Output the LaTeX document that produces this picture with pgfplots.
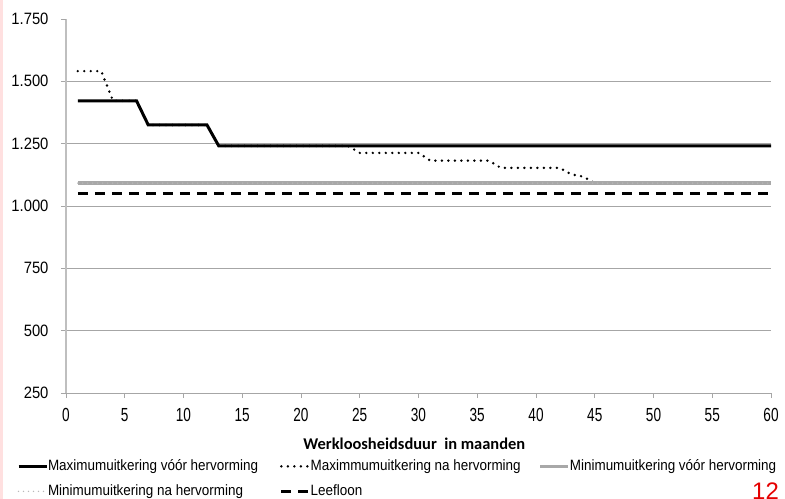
\documentclass[border=0pt]{standalone}
\usepackage{fontspec}
\setmainfont{Liberation Sans}
\newfontfamily\nfont[FakeStretch=0.9]{Liberation Sans}
\newfontfamily\xfont[FakeStretch=0.72]{Liberation Sans}
\newfontfamily\tfont{Carlito}
\usepackage{pgfplots}
\pgfplotsset{compat=1.18}

\definecolor{gridgray}{HTML}{A6A6A6}
\definecolor{axisgray}{HTML}{BFBFBF}
\definecolor{mingray}{HTML}{A8A8A8}

\begin{document}
\begin{tikzpicture}
\useasboundingbox (0,0) rectangle (785bp,499bp);
\fill[red!12] (0,0) rectangle (2.5bp,499bp);
\begin{axis}[
  at={(66bp,106bp)}, anchor=south west,
  scale only axis, width=705bp, height=374bp,
  xmin=0, xmax=60, ymin=250, ymax=1750,
  axis x line=bottom, axis y line=left, axis line style={-},
  x axis line style={gridgray, line width=1pt},
  y axis line style={axisgray, line width=1.5pt},
  xtick={0,5,...,60}, ytick={250,500,...,1500},
  extra y ticks={1750}, extra y tick style={grid=none},
  ymajorgrids, grid style={gridgray, line width=0.9pt},
  tick align=outside, major tick length=5bp,
  tick style={gridgray, line width=0.9pt},
  /pgf/number format/assume math mode=true,
  /pgf/number format/1000 sep={.},
  yticklabel style={font=\fontsize{16.5}{17}\nfont, xshift=-9bp},
  xticklabel style={font=\fontsize{19}{19}\xfont, yshift=-7bp},
  xlabel={Werkloosheidsduur\ \ in maanden},
  xlabel style={at={(axis description cs:0.494,-0.136)}, anchor=center,
    inner sep=0pt, font=\fontsize{16.5}{17}\tfont\bfseries},
  legend columns=3, legend cell align=left,
  legend style={at={(-0.0695,-0.1775)}, anchor=north west, draw=none,
    fill=none, inner sep=0pt, outer sep=0pt, font=\fontsize{15}{15}\nfont,
    column sep=0pt, row sep=11bp,
    nodes={inner sep=0pt, text height=11bp, text depth=3bp}},
  legend image code/.code={\draw[#1] (0bp,0bp) -- (28bp,0bp);},
]
\addplot[black, line width=3bp] coordinates {
  (1,1422) (6,1422) (7,1325) (12,1325) (13,1241) (60,1241)};
\addlegendentry{\makebox[232bp][l]{Maximumuitkering vóór hervorming}}
\addplot[black, line width=2.7bp, line cap=round, dash pattern=on 0pt off 6.5bp] coordinates {
  (1,1541) (3,1541) (4,1422) (6,1422) (7,1325) (12,1325) (13,1241) (24,1241)
  (25,1213) (30,1213) (31,1182) (36,1182) (37,1153) (42,1153) (43,1127)
  (44,1118) (45,1092) (60,1092)};
\addlegendentry{\makebox[228bp][l]{Maximmumuitkering na hervorming}}
\addplot[mingray, line width=3.2bp] coordinates {(1,1092) (60,1092)};
\addlegendentry{Minimumuitkering vóór hervorming}
\addplot[gray!55, line width=1.6bp, line cap=round, dash pattern=on 0pt off 5bp] coordinates {
  (1,1092) (60,1092)};
\addlegendentry{Minimumuitkering na hervorming}
\addplot[black, line width=2.7bp, dash pattern=on 10bp off 7bp] coordinates {
  (1,1049) (60,1049)};
\addlegendentry{Leefloon}
\end{axis}
\node[anchor=north, inner sep=0pt, text=red!90!black,
  font=\fontsize{24}{24}\selectfont] at (765.5bp,16bp) {12};
\end{tikzpicture}
\end{document}
